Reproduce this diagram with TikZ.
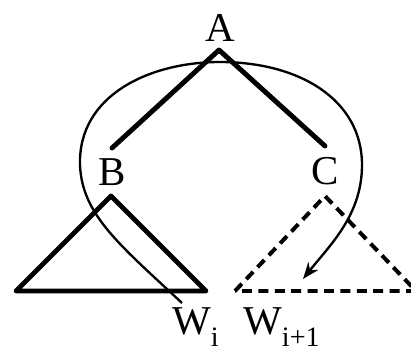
\documentclass[tikz,border=0pt]{standalone}
\usepackage{fontspec}
\setmainfont{Liberation Serif}
\usetikzlibrary{arrows.meta, positioning}

\begin{document}
\begin{tikzpicture}[
		x=0.03cm, y=-0.03cm,
		label/.style={font=\fontsize{35}{40}\selectfont, inner sep=0pt},
		wlabel/.style={font=\fontsize{35}{40}\selectfont, inner sep=0pt, anchor=base west},
		branch/.style={line width=4.2pt, line cap=round, line join=round},
		subtree/.style={line width=4.2pt, line join=round},
		guess/.style={line width=3.4pt, dash pattern=on 8.5pt off 5.5pt},
		walk/.style={line width=2pt, -{Stealth[length=5mm, width=3.8mm]}}
	]
		\useasboundingbox (0,0) rectangle (411,355);

		\node[label] (A) at (220,28) {A};
		\node[label] (B) at (112,172) {B};
		\node[label] (C) at (325,171) {C};

		\coordinate (top) at (219,50);
		\coordinate (bl) at (112,148);
		\coordinate (cr) at (325,146);
		\draw[branch] (bl) -- (top) -- (cr);

		% subtree under B
		\coordinate (b1) at (111,196);
		\coordinate (b2) at (16,291);
		\coordinate (b3) at (206,291);
		\draw[subtree] (b1) -- (b2) -- (b3) -- cycle;

		% subtree under C, not yet built
		\coordinate (c1) at (325,196);
		\coordinate (c2) at (235,291);
		\coordinate (c3) at (416,291);
		\draw[guess] (c2) -- (c1) -- (c3) -- (c2);

		\node[wlabel] (Wi) at (172,334) {W\raisebox{-11pt}{\fontsize{24}{26}\selectfont i}};
		\node[wlabel] (Wj) at (243,334) {W\raisebox{-11pt}{\fontsize{24}{26}\selectfont i+1}};

		% the walk round the tree
		\coordinate (start) at (182,303);
		\coordinate (stop) at (303,279);
		\draw[walk] (start) .. controls (120,245) and (82,215) .. (80,165)
			.. controls (78,95) and (150,62) .. (220,62)
			.. controls (300,62) and (362,100) .. (362,165)
			.. controls (362,215) and (330,245) .. (stop);
	\end{tikzpicture}
\end{document}
